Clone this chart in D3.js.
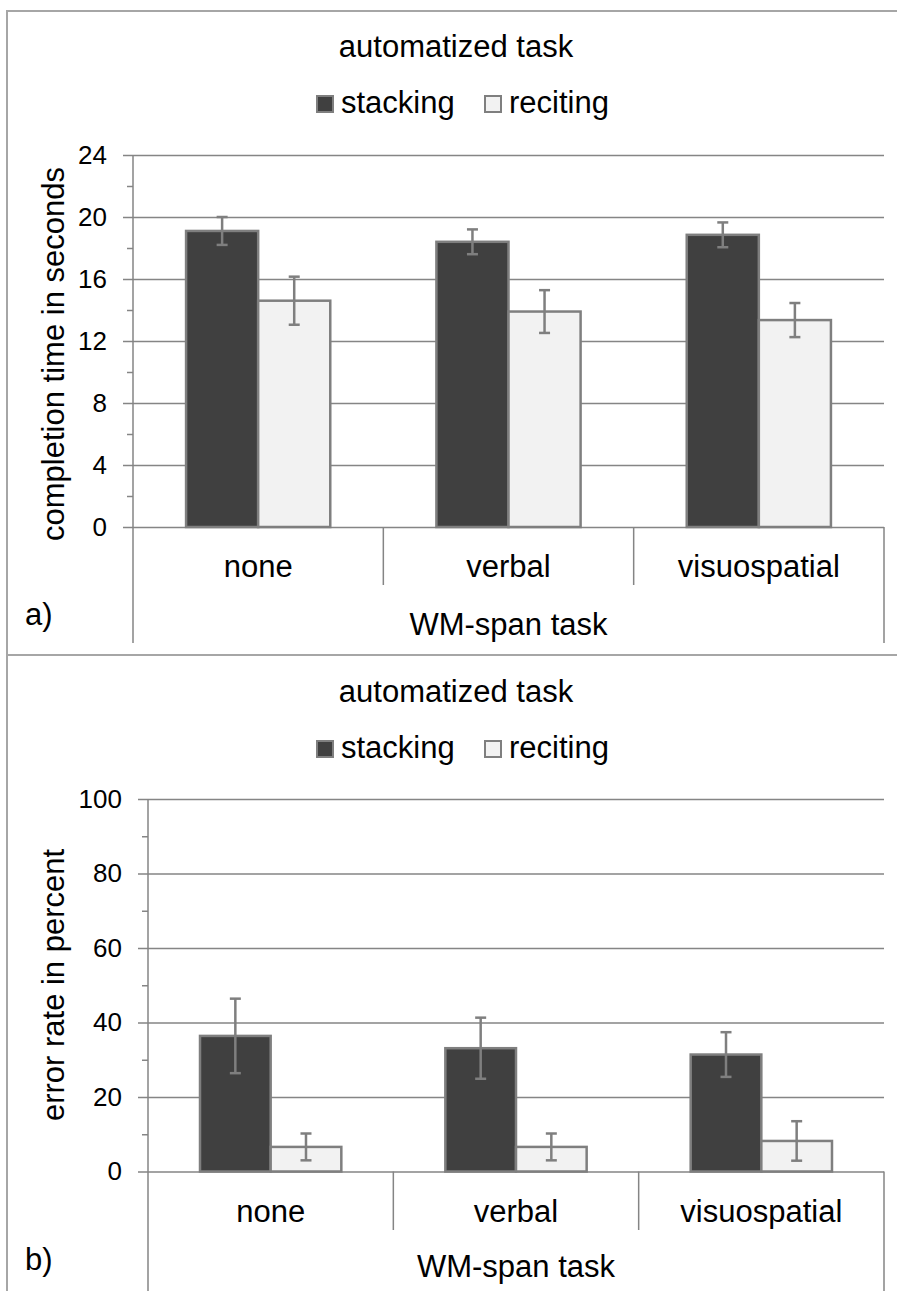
<!DOCTYPE html>
<html>
<head>
  <meta charset="utf-8">
  <title>WM-span task bars</title>
  <style>
    body { margin: 0; background: #fff; }
    svg { display: block; }
    text { font-family: "Liberation Sans", Arial, sans-serif; fill: #000; }
  </style>
</head>
<body>
  <div id="chart"></div>
  <script src="https://cdn.jsdelivr.net/npm/d3@7/dist/d3.min.js"></script>
  <script>
    // data
    const categories = ['none', 'verbal', 'visuospatial'];
    const series = ['stacking', 'reciting'];

    // a) completion time in seconds
    const timeStacking = [19.1, 18.4, 18.85];
    const timeStackingErr = [0.9, 0.8, 0.8];
    const timeReciting = [14.6, 13.9, 13.35];
    const timeRecitingErr = [1.55, 1.38, 1.1];
    const timeTicks = [0, 4, 8, 12, 16, 20, 24];
    const timeMinor = [2, 6, 10, 14, 18, 22];

    // b) error rate in percent
    const errStacking = [36.4, 33.1, 31.4];
    const errStackingErr = [10, 8.2, 6];
    const errReciting = [6.6, 6.6, 8.2];
    const errRecitingErr = [3.6, 3.6, 5.3];
    const errTicks = [0, 20, 40, 60, 80, 100];
    const errMinor = [10, 30, 50, 70, 90];

    const W = 897, H = 1291;
    const fill = {stacking: '#404040', reciting: '#f2f2f2'};
    const lineCol = '#858585';
    const borderCol = '#a6a6a6';

    function translate(x, y) { return 'translate(' + x + ',' + y + ')'; }

    let svg = d3.select('#chart').append('svg')
      .attr('width', W).attr('height', H);

    // outer frame: top line, left line, divider between panels
    svg.append('line').attr('x1', 7).attr('x2', W).attr('y1', 11).attr('y2', 11)
      .attr('stroke', borderCol).attr('stroke-width', 2);
    svg.append('line').attr('x1', 7).attr('x2', 7).attr('y1', 10).attr('y2', H)
      .attr('stroke', borderCol).attr('stroke-width', 2);
    svg.append('line').attr('x1', 7).attr('x2', W).attr('y1', 655).attr('y2', 655)
      .attr('stroke', borderCol).attr('stroke-width', 2);

    function drawPanel(p) {
      let g = svg.append('g');

      let x = d3.scaleBand().domain(categories).range([p.left, p.right]);
      let y = d3.scaleLinear().domain([0, p.max]).range([p.bottom, p.top]);
      let barW = x.bandwidth() * 0.288;
      let xs = d3.scaleBand().domain(series).range([-barW, barW]);

      // title + legend
      g.append('text').attr('x', 456).attr('y', p.titleY)
        .attr('text-anchor', 'middle').style('font-size', '31px')
        .text('automatized task');

      let legX = [316, 484];
      let leg = g.selectAll('.leg').data(series).enter().append('g')
        .attr('transform', (d, i) => translate(legX[i], p.legendY));
      leg.append('rect').attr('x', 1).attr('y', -17).attr('width', 16).attr('height', 16)
        .attr('fill', d => fill[d]).attr('stroke', '#7f7f7f').attr('stroke-width', 2);
      leg.append('text').attr('x', 25).attr('y', 0).style('font-size', '31px').text(d => d);

      // major gridlines with labels
      let yAxis = d3.axisLeft(y).tickValues(p.ticks)
        .tickSize(-(p.right - p.left + 10)).tickPadding(16);
      let ga = g.append('g').attr('transform', translate(p.left - 10, 0)).call(yAxis);
      ga.select('.domain').remove();
      ga.selectAll('.tick line').attr('stroke', lineCol).attr('stroke-width', 1.5);
      ga.selectAll('.tick text').style('font-size', '26px')
        .style('font-family', '"Liberation Sans", Arial, sans-serif').attr('fill', '#000');

      // minor ticks
      let gm = g.append('g').attr('transform', translate(p.left, 0))
        .call(d3.axisLeft(y).tickValues(p.minor).tickSize(6).tickFormat(''));
      gm.select('.domain').remove();
      gm.selectAll('.tick line').attr('stroke', lineCol).attr('stroke-width', 1.5);

      // y axis line running down through the category area
      g.append('line').attr('x1', p.left).attr('x2', p.left)
        .attr('y1', y(p.max)).attr('y2', p.frameBottom)
        .attr('stroke', lineCol).attr('stroke-width', 1.5);
      g.append('line').attr('x1', p.right).attr('x2', p.right)
        .attr('y1', y(0)).attr('y2', p.frameBottom)
        .attr('stroke', lineCol).attr('stroke-width', 1.5);
      // category separators
      g.selectAll('.sep').data(categories.slice(1)).enter().append('line')
        .attr('x1', d => x(d)).attr('x2', d => x(d))
        .attr('y1', y(0)).attr('y2', p.sepBottom)
        .attr('stroke', lineCol).attr('stroke-width', 1.5);

      // bars
      let rows = [];
      categories.forEach((c, i) => {
        rows.push({cat: c, s: 'stacking', v: p.vals[0][i], e: p.errs[0][i]});
        rows.push({cat: c, s: 'reciting', v: p.vals[1][i], e: p.errs[1][i]});
      });
      let cx = d => x(d.cat) + x.bandwidth() / 2 + xs(d.s);
      g.selectAll('.bar').data(rows).enter().append('rect')
        .attr('x', cx)
        .attr('y', d => y(d.v))
        .attr('width', xs.bandwidth())
        .attr('height', d => y(0) - y(d.v))
        .attr('fill', d => fill[d.s])
        .attr('stroke', '#7f7f7f').attr('stroke-width', 2.5);

      // error bars
      let mid = d => cx(d) + xs.bandwidth() / 2;
      let eb = g.selectAll('.err').data(rows).enter().append('g')
        .attr('stroke', '#7f7f7f').attr('stroke-width', 2.5);
      eb.append('line').attr('x1', mid).attr('x2', mid)
        .attr('y1', d => y(d.v + d.e)).attr('y2', d => y(d.v - d.e));
      eb.append('line').attr('x1', d => mid(d) - 5.5).attr('x2', d => mid(d) + 5.5)
        .attr('y1', d => y(d.v + d.e)).attr('y2', d => y(d.v + d.e));
      eb.append('line').attr('x1', d => mid(d) - 5.5).attr('x2', d => mid(d) + 5.5)
        .attr('y1', d => y(d.v - d.e)).attr('y2', d => y(d.v - d.e));

      // category labels
      g.selectAll('.cat').data(categories).enter().append('text')
        .attr('x', d => x(d) + x.bandwidth() / 2).attr('y', p.catY)
        .attr('text-anchor', 'middle').style('font-size', '31px').text(d => d);

      g.append('text').attr('x', (p.left + p.right) / 2).attr('y', p.xTitleY)
        .attr('text-anchor', 'middle').style('font-size', '31px').text('WM-span task');

      g.append('text').attr('x', 25).attr('y', p.letterY)
        .style('font-size', '31px').text(p.letter);

      // y axis title
      g.append('text').attr('transform', translate(64, p.yTitleMid) + ' rotate(-90)')
        .attr('text-anchor', 'middle').style('font-size', '31px').text(p.yTitle);
    }

    drawPanel({
      left: 133, right: 884, top: 155, bottom: 527, max: 24,
      ticks: timeTicks, minor: timeMinor,
      vals: [timeStacking, timeReciting], errs: [timeStackingErr, timeRecitingErr],
      titleY: 57, legendY: 113, sepBottom: 585, frameBottom: 643,
      catY: 577, xTitleY: 635, letterY: 625, letter: 'a)',
      yTitle: 'completion time in seconds', yTitleMid: 354
    });

    drawPanel({
      left: 148, right: 884, top: 799, bottom: 1171.5, max: 100,
      ticks: errTicks, minor: errMinor,
      vals: [errStacking, errReciting], errs: [errStackingErr, errRecitingErr],
      titleY: 702, legendY: 758, sepBottom: 1230, frameBottom: H,
      catY: 1222, xTitleY: 1277, letterY: 1270, letter: 'b)',
      yTitle: 'error rate in percent', yTitleMid: 985
    });
  </script>
</body>
</html>
